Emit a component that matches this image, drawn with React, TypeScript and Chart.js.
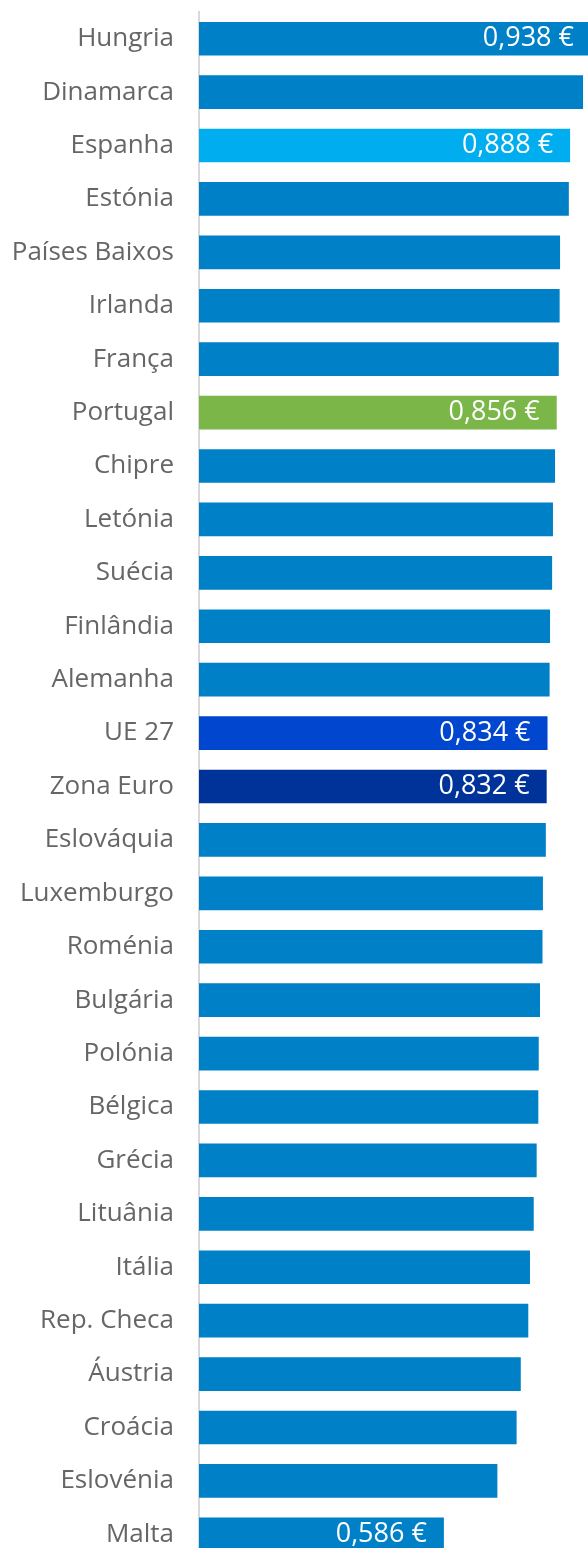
import React, { useEffect, useRef } from "react";
import { Chart, registerables } from "chart.js";

Chart.register(...registerables);

const categories = [
  "Hungria", "Dinamarca", "Espanha", "Estónia", "Países Baixos", "Irlanda", "França",
  "Portugal", "Chipre", "Letónia", "Suécia", "Finlândia", "Alemanha", "UE 27",
  "Zona Euro", "Eslováquia", "Luxemburgo", "Roménia", "Bulgária", "Polónia",
  "Bélgica", "Grécia", "Lituânia", "Itália", "Rep. Checa", "Áustria", "Croácia",
  "Eslovénia", "Malta",
];

const prices = [
  0.938, 0.919, 0.888, 0.885, 0.864, 0.863, 0.861,
  0.856, 0.852, 0.847, 0.845, 0.840, 0.839, 0.834,
  0.832, 0.830, 0.823, 0.822, 0.816, 0.813,
  0.812, 0.808, 0.801, 0.792, 0.788, 0.770, 0.760,
  0.714, 0.586,
];

const labelledCategories = ["Hungria", "Espanha", "Portugal", "UE 27", "Zona Euro", "Malta"];

const highlightColors: Record<string, string> = {
  Espanha: "#00AEEF",
  Portugal: "#7AB648",
  "UE 27": "#0046CF",
  "Zona Euro": "#003399",
};
const defaultColor = "#0080C6";

const FONT = "'Open Sans', Lato, sans-serif";

const valueLabelPlugin = {
  id: "valueLabels",
  afterDatasetsDraw(chart: any) {
    const ctx = chart.ctx;
    const meta = chart.getDatasetMeta(0);
    ctx.save();
    ctx.font = `27px ${FONT}`;
    ctx.fillStyle = "#ffffff";
    ctx.textAlign = "right";
    ctx.textBaseline = "middle";
    meta.data.forEach((bar: any, i: number) => {
      const name = categories[i];
      if (!labelledCategories.includes(name)) return;
      const text = prices[i].toFixed(3).replace(".", ",") + " €";
      ctx.fillText(text, bar.x - 17, bar.y);
    });
    ctx.restore();
  },
};

export default function App() {
  const canvasRef = useRef<HTMLCanvasElement | null>(null);

  useEffect(() => {
    if (!canvasRef.current) return;
    const chart = new Chart(canvasRef.current, {
      type: "bar",
      data: {
        labels: categories,
        datasets: [
          {
            data: prices,
            backgroundColor: categories.map((c) => highlightColors[c] || defaultColor),
            borderWidth: 0,
            barPercentage: 0.63,
            categoryPercentage: 1,
          },
        ],
      },
      options: {
        indexAxis: "y",
        responsive: false,
        animation: false,
        devicePixelRatio: 1,
        layout: { padding: { top: 12, bottom: 0, left: 0, right: 0 } },
        plugins: {
          legend: { display: false },
          tooltip: { enabled: false },
        },
        scales: {
          x: {
            display: false,
            min: 0,
            max: 0.95,
          },
          y: {
            afterFit: (scale: any) => {
              scale.width = 199;
              scale.paddingTop = 0;
              scale.paddingBottom = 0;
            },
            grid: { display: false, drawTicks: false, tickLength: 0 },
            border: { display: true, color: "#d9d9d9", width: 2 },
            ticks: {
              padding: 25,
              color: "#666666",
              font: { family: FONT, size: 26 },
            },
          },
        },
      },
      plugins: [valueLabelPlugin],
    });
    return () => chart.destroy();
  }, []);

  return (
    <div
      style={{
        position: "absolute",
        left: 0,
        top: 0,
        width: 588,
        height: 1548,
        overflow: "hidden",
        background: "#ffffff",
      }}
    >
      <canvas ref={canvasRef} width={596} height={1561} style={{ display: "block" }} />
    </div>
  );
}
